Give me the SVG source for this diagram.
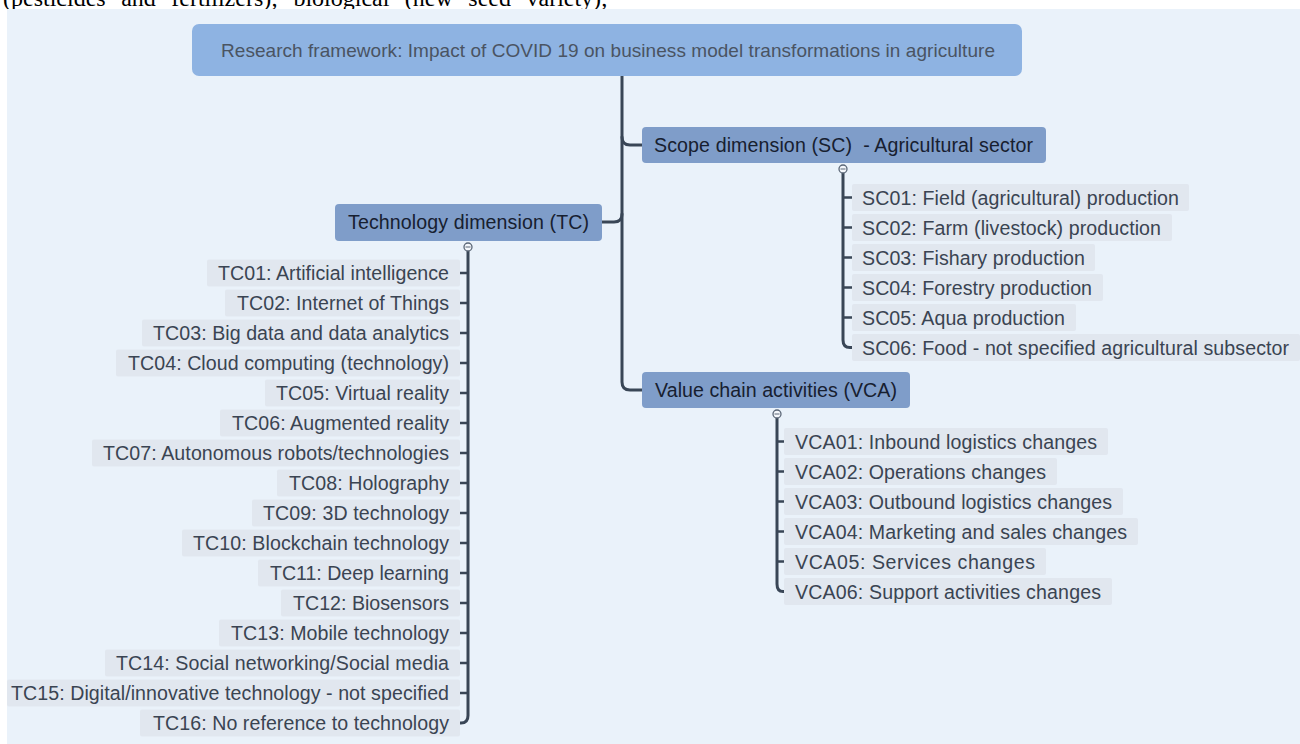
<svg xmlns="http://www.w3.org/2000/svg" width="1300" height="744" viewBox="0 0 1300 744">
<style>
.t{font-family:"Liberation Sans",Arial,sans-serif;white-space:pre}
.root{fill:#8eb3e2}
.rootT{font-size:19px;fill:#4a5462}
.sub{fill:#7f9dc9}
.subT{font-size:19.6px;fill:#172030}
.leaf{fill:#e1e7ef}
.leafT{font-size:19.6px;fill:#3a4452}
.c{fill:none;stroke:#394656;stroke-width:3;stroke-linecap:round}
.tick{fill:none;stroke:#394656;stroke-width:2.5}
.knob{fill:#f4f7fb;stroke:#5b6777;stroke-width:1.3}
</style>
<rect width="1300" height="744" fill="#ffffff"/>
<text x="3" y="6" font-family="'Liberation Serif','Times New Roman',serif" font-size="24" word-spacing="9.5" fill="#000">(pesticides and fertilizers); biological (new seed variety);</text>
<rect x="7" y="9" width="1293" height="735" fill="#eaf2fa"/>

<g id="connectors">
<path class="c" d="M622,76 V382 Q622,390 630,390 H642"/>
<path class="c" d="M642,145 H630 Q622,145 622,137"/>
<path class="c" d="M602,222 H614 Q622,222 622,214"/>
<path class="c" d="M843,173 V340 Q843,347.5 850,347.5 H852"/>
<path class="c" d="M777,418 V584 Q777,591.5 783,591.5 H784"/>
<path class="c" d="M468,251 V715.5 Q468,723 461,723 H460"/>
<g class="tick">
<path d="M843,197.5H852M843,227.5H852M843,257.5H852M843,287.5H852M843,317.5H852"/>
<path d="M777,441.5H784M777,471.5H784M777,501.5H784M777,531.5H784M777,561.5H784"/>
<path d="M468,273H460M468,303H460M468,333H460M468,363H460M468,393H460M468,423H460M468,453H460M468,483H460M468,513H460M468,543H460M468,573H460M468,603H460M468,633H460M468,663H460M468,693H460"/>
</g>
<g>
<circle class="knob" cx="843" cy="169" r="4"/><path d="M840.5,169H845.5" stroke="#5b6777" stroke-width="1"/>
<circle class="knob" cx="468" cy="247" r="4"/><path d="M465.5,247H470.5" stroke="#5b6777" stroke-width="1"/>
<circle class="knob" cx="777" cy="414" r="4"/><path d="M774.5,414H779.5" stroke="#5b6777" stroke-width="1"/>
</g>
</g>

<g id="root">
<rect class="root" x="192" y="24" width="830" height="52" rx="7"/>
<text class="t rootT" x="221" y="57" textLength="774">Research framework: Impact of COVID 19 on business model transformations in agriculture</text>
</g>

<g id="sc">
<rect class="sub" x="642" y="127" width="404" height="36" rx="4"/>
<text class="t subT" x="654" y="152" textLength="379">Scope dimension (SC)  - Agricultural sector</text>
</g>
<g id="tc">
<rect class="sub" x="335" y="204" width="267" height="37" rx="4"/>
<text class="t subT" x="348" y="229" textLength="241">Technology dimension (TC)</text>
</g>
<g id="vca">
<rect class="sub" x="642" y="372" width="268" height="36" rx="4"/>
<text class="t subT" x="655" y="397" textLength="242">Value chain activities (VCA)</text>
</g>

<g id="sc01"><rect class="leaf" x="852" y="184" width="337" height="27" rx="2"/><text class="t leafT" x="862" y="204.5" textLength="317">SC01: Field (agricultural) production</text></g>
<g id="sc02"><rect class="leaf" x="852" y="214" width="320" height="27" rx="2"/><text class="t leafT" x="862" y="234.5" textLength="299">SC02: Farm (livestock) production</text></g>
<g id="sc03"><rect class="leaf" x="852" y="244" width="243" height="27" rx="2"/><text class="t leafT" x="862" y="264.5" textLength="223">SC03: Fishary production</text></g>
<g id="sc04"><rect class="leaf" x="852" y="274" width="251" height="27" rx="2"/><text class="t leafT" x="862" y="294.5" textLength="230">SC04: Forestry production</text></g>
<g id="sc05"><rect class="leaf" x="852" y="304" width="224" height="27" rx="2"/><text class="t leafT" x="862" y="324.5" textLength="203">SC05: Aqua production</text></g>
<g id="sc06"><rect class="leaf" x="852" y="334" width="448" height="27" rx="2"/><text class="t leafT" x="862" y="354.5" textLength="427">SC06: Food - not specified agricultural subsector</text></g>

<g id="vca01"><rect class="leaf" x="784" y="428" width="324" height="27" rx="2"/><text class="t leafT" x="795" y="448.5" textLength="302">VCA01: Inbound logistics changes</text></g>
<g id="vca02"><rect class="leaf" x="784" y="458" width="273" height="27" rx="2"/><text class="t leafT" x="795" y="478.5" textLength="251">VCA02: Operations changes</text></g>
<g id="vca03"><rect class="leaf" x="784" y="488" width="339" height="27" rx="2"/><text class="t leafT" x="795" y="508.5" textLength="317">VCA03: Outbound logistics changes</text></g>
<g id="vca04"><rect class="leaf" x="784" y="518" width="354" height="27" rx="2"/><text class="t leafT" x="795" y="538.5" textLength="332">VCA04: Marketing and sales changes</text></g>
<g id="vca05"><rect class="leaf" x="784" y="548" width="262" height="27" rx="2"/><text class="t leafT" x="795" y="568.5" textLength="240">VCA05: Services changes</text></g>
<g id="vca06"><rect class="leaf" x="784" y="578" width="328" height="27" rx="2"/><text class="t leafT" x="795" y="598.5" textLength="306">VCA06: Support activities changes</text></g>

<g id="tc01"><rect class="leaf" x="207" y="259.5" width="253" height="27" rx="2"/><text class="t leafT" x="218" y="280" textLength="231">TC01: Artificial intelligence</text></g>
<g id="tc02"><rect class="leaf" x="225" y="289.5" width="235" height="27" rx="2"/><text class="t leafT" x="237" y="310" textLength="212">TC02: Internet of Things</text></g>
<g id="tc03"><rect class="leaf" x="142" y="319.5" width="318" height="27" rx="2"/><text class="t leafT" x="153" y="340" textLength="296">TC03: Big data and data analytics</text></g>
<g id="tc04"><rect class="leaf" x="116" y="349.5" width="344" height="27" rx="2"/><text class="t leafT" x="128" y="370" textLength="321">TC04: Cloud computing (technology)</text></g>
<g id="tc05"><rect class="leaf" x="265" y="379.5" width="195" height="27" rx="2"/><text class="t leafT" x="276" y="400" textLength="173">TC05: Virtual reality</text></g>
<g id="tc06"><rect class="leaf" x="220" y="409.5" width="240" height="27" rx="2"/><text class="t leafT" x="232" y="430" textLength="217">TC06: Augmented reality</text></g>
<g id="tc07"><rect class="leaf" x="92" y="439.5" width="368" height="27" rx="2"/><text class="t leafT" x="103" y="460" textLength="346">TC07: Autonomous robots/technologies</text></g>
<g id="tc08"><rect class="leaf" x="277" y="469.5" width="183" height="27" rx="2"/><text class="t leafT" x="289" y="490" textLength="160">TC08: Holography</text></g>
<g id="tc09"><rect class="leaf" x="252" y="499.5" width="208" height="27" rx="2"/><text class="t leafT" x="263" y="520" textLength="186">TC09: 3D technology</text></g>
<g id="tc10"><rect class="leaf" x="182" y="529.5" width="278" height="27" rx="2"/><text class="t leafT" x="193" y="550" textLength="256">TC10: Blockchain technology</text></g>
<g id="tc11"><rect class="leaf" x="258" y="559.5" width="202" height="27" rx="2"/><text class="t leafT" x="270" y="580" textLength="179">TC11: Deep learning</text></g>
<g id="tc12"><rect class="leaf" x="281" y="589.5" width="179" height="27" rx="2"/><text class="t leafT" x="293" y="610" textLength="156">TC12: Biosensors</text></g>
<g id="tc13"><rect class="leaf" x="219" y="619.5" width="241" height="27" rx="2"/><text class="t leafT" x="231" y="640" textLength="218">TC13: Mobile technology</text></g>
<g id="tc14"><rect class="leaf" x="105" y="649.5" width="355" height="27" rx="2"/><text class="t leafT" x="116" y="670" textLength="333">TC14: Social networking/Social media</text></g>
<g id="tc15"><rect class="leaf" x="7" y="679.5" width="453" height="27" rx="2"/><text class="t leafT" x="11" y="700" textLength="438">TC15: Digital/innovative technology - not specified</text></g>
<g id="tc16"><rect class="leaf" x="140" y="709.5" width="320" height="27" rx="2"/><text class="t leafT" x="153" y="730" textLength="296">TC16: No reference to technology</text></g>
</svg>
